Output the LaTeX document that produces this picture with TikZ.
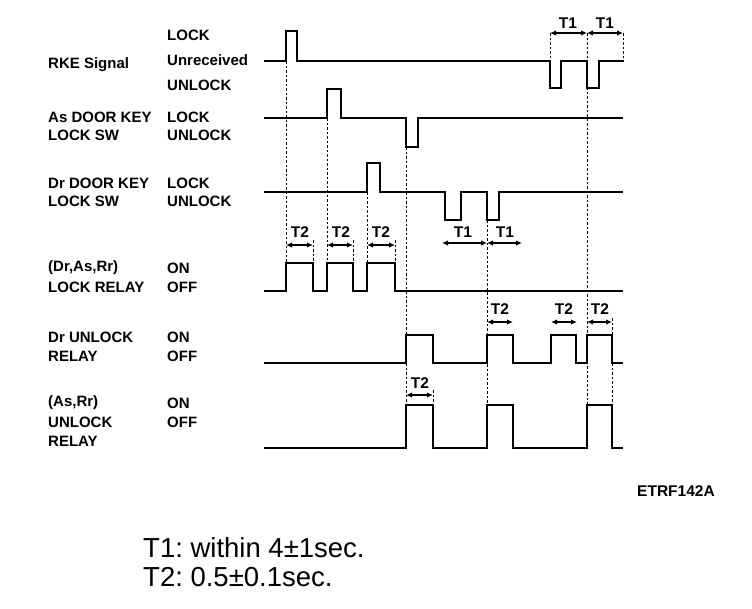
\documentclass[tikz,border=0pt]{standalone}
\usepackage{fontspec}
\setmainfont{Liberation Sans}
\usetikzlibrary{arrows.meta}
\begin{document}
\begin{tikzpicture}[x=1pt,y=-1pt,
  wave/.style={line width=2.8pt, line join=miter},
  guide/.style={line width=0.9pt, dash pattern=on 2.5pt off 2pt},
  span/.style={line width=1.6pt, {Latex[length=6pt,width=5.5pt]}-{Latex[length=6pt,width=5.5pt]}},
  lbl/.style={font=\fontsize{15}{15}\selectfont\bfseries, anchor=west, inner sep=0pt},
  tl/.style={font=\fontsize{15.5}{15.5}\selectfont\bfseries, inner sep=0pt},
  note/.style={font=\fontsize{27.5}{27.5}\selectfont, anchor=west, inner sep=0pt}]
\useasboundingbox (0,0) rectangle (752,608);
% left labels
\node[lbl] (rke) at (48,65) {RKE Signal};
\node[lbl] (rkeL) at (167,35) {LOCK};
\node[lbl] (rkeN) at (167,60) {Unreceived};
\node[lbl] (rkeU) at (167,85) {UNLOCK};
\node[lbl] (as1) at (48,117) {As DOOR KEY};
\node[lbl] (as2) at (48,135) {LOCK SW};
\node[lbl] (asL) at (167,117) {LOCK};
\node[lbl] (asU) at (167,135) {UNLOCK};
\node[lbl] (dr1) at (48,183) {Dr DOOR KEY};
\node[lbl] (dr2) at (48,201) {LOCK SW};
\node[lbl] (drL) at (167,183) {LOCK};
\node[lbl] (drU) at (167,201) {UNLOCK};
\node[lbl] (lr1) at (48,268) {(Dr,As,Rr)};
\node[lbl] (lr2) at (48,287) {LOCK RELAY};
\node[lbl] (lrOn) at (167,268) {ON};
\node[lbl] (lrOff) at (167,287) {OFF};
\node[lbl] (du1) at (48,337) {Dr UNLOCK};
\node[lbl] (du2) at (48,356) {RELAY};
\node[lbl] (duOn) at (167,337) {ON};
\node[lbl] (duOff) at (167,356) {OFF};
\node[lbl] (au1) at (48,403) {(As,Rr)};
\node[lbl] (au2) at (48,422) {UNLOCK};
\node[lbl] (au3) at (48,441) {RELAY};
\node[lbl] (auOn) at (167,403) {ON};
\node[lbl] (auOff) at (167,422) {OFF};
% waveforms
\draw[wave] (264,61) -- (286,61) -- (286,31) -- (297,31) -- (297,61) -- (550,61) -- (550,88) -- (561,88) -- (561,61) -- (587,61) -- (587,88) -- (599,88) -- (599,61) -- (624,61);
\draw[wave] (264,118) -- (327,118) -- (327,89) -- (341,89) -- (341,118) -- (406,118) -- (406,147) -- (418,147) -- (418,118) -- (623,118);
\draw[wave] (264,192) -- (367,192) -- (367,163) -- (380,163) -- (380,192) -- (445,192) -- (445,220) -- (461,220) -- (461,192) -- (487,192) -- (487,220) -- (499,220) -- (499,192) -- (623,192);
\draw[wave] (264,291) -- (286,291) -- (286,263) -- (313,263) -- (313,291) -- (327,291) -- (327,263) -- (353,263) -- (353,291) -- (367,291) -- (367,263) -- (395,263) -- (395,291) -- (623,291);
\draw[wave] (264,363) -- (406,363) -- (406,335) -- (433,335) -- (433,363) -- (487,363) -- (487,335) -- (513,335) -- (513,363) -- (551,363) -- (551,335) -- (576,335) -- (576,363) -- (587,363) -- (587,335) -- (612,335) -- (612,363) -- (623,363);
\draw[wave] (264,448) -- (406,448) -- (406,405) -- (433,405) -- (433,448) -- (487,448) -- (487,405) -- (513,405) -- (513,448) -- (587,448) -- (587,405) -- (612,405) -- (612,448) -- (623,448);
% guides
\draw[guide] (550,33) -- (550,61);
\draw[guide] (623,33) -- (623,61);
\draw[guide] (587,33) -- (587,405);
\draw[guide] (286,61) -- (286,263);
\draw[guide] (327,118) -- (327,263);
\draw[guide] (367,192) -- (367,263);
\draw[guide] (313,240) -- (313,263);
\draw[guide] (353,240) -- (353,263);
\draw[guide] (395,240) -- (395,263);
\draw[guide] (406,147) -- (406,405);
\draw[guide] (433,390) -- (433,405);
\draw[guide] (487,220) -- (487,405);
\draw[guide] (612,318) -- (612,405);
% T1 spans
\draw[span] (550,33) -- (587,33);
\draw[span] (587,33) -- (623,33);
\node[tl] (t1a) at (568,23) {T1};
\node[tl] (t1b) at (605,23) {T1};
\draw[span] (442,243) -- (487,243);
\draw[span] (487,243) -- (522,243);
\node[tl] (t1c) at (463,232) {T1};
\node[tl] (t1d) at (505,232) {T1};
% T2 spans
\draw[span] (286,245) -- (313,245);
\draw[span] (327,245) -- (353,245);
\draw[span] (367,245) -- (395,245);
\node[tl] (t2a) at (300,232) {T2};
\node[tl] (t2b) at (341,232) {T2};
\node[tl] (t2c) at (381,232) {T2};
\draw[span] (487,322) -- (513,322);
\draw[span] (551,322) -- (577,322);
\draw[span] (587,322) -- (612,322);
\node[tl] (t2d) at (500,309) {T2};
\node[tl] (t2e) at (564,309) {T2};
\node[tl] (t2f) at (600,309) {T2};
\draw[span] (406,395) -- (433,395);
\node[tl] (t2g) at (420,383) {T2};
% footer
\node[font=\fontsize{15.5}{15.5}\selectfont\bfseries, anchor=west, inner sep=0pt] (code) at (637,491) {ETRF142A};
\node[note] (n1) at (143,548) {T1:\ within 4±1sec.};
\node[note] (n2) at (143,577) {T2:\ 0.5±0.1sec.};
\end{tikzpicture}
\end{document}
